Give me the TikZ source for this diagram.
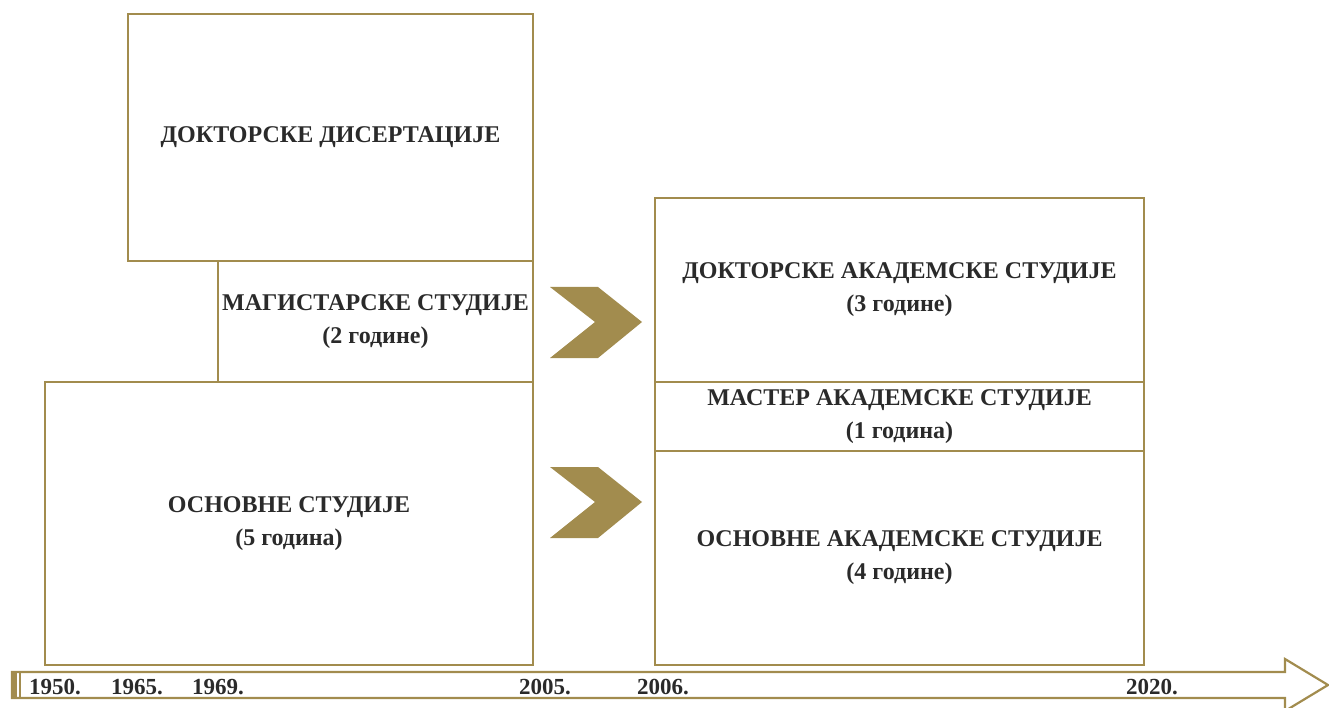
\documentclass[tikz,border=0pt]{standalone}
\usepackage{fontspec}
\setmainfont{Liberation Serif}
\usetikzlibrary{positioning}
\definecolor{gold}{HTML}{A28C4E}
\definecolor{ink}{HTML}{2A2A2A}

\begin{document}
\begin{tikzpicture}[
  x=1pt,y=-1pt,
  every node/.style={scale=1.0},
  boxes/.style={rectangle,draw=gold,line width=2.6pt,outer sep=0pt,inner sep=0pt,minimum width=#1,align=center,text=ink,font=\fontsize{24}{33}\selectfont\bfseries},
  years/.style={text=ink,font=\fontsize{23}{24}\selectfont\bfseries,inner sep=0pt},
]
\useasboundingbox (0,0) rectangle (1329,708);

% old system
\node (osnovne) [boxes=488pt,minimum height=283pt,anchor=south west] at (45,665)
  {ОСНОВНЕ СТУДИЈЕ\\(5 година)};
\node (magistar) [boxes=315pt,minimum height=121pt,above=0pt of osnovne.north east,anchor=south east]
  {МАГИСТАРСКЕ СТУДИЈЕ\\(2 године)};
\node (disert) [boxes=405pt,minimum height=247pt,above=0pt of magistar.north east,anchor=south east]
  {\raisebox{-4pt}{ДОКТОРСКЕ ДИСЕРТАЦИЈЕ}};

% new system
\node (master) [boxes=489pt,minimum height=69pt] at (899.5,416.5)
  {МАСТЕР АКАДЕМСКЕ СТУДИЈЕ\\(1 година)};
\node (doktor) [boxes=489pt,minimum height=184pt,above=0pt of master]
  {ДОКТОРСКЕ АКАДЕМСКЕ СТУДИЈЕ\\(3 године)};
\node (osnakad) [boxes=489pt,minimum height=214pt,below=0pt of master]
  {ОСНОВНЕ АКАДЕМСКЕ СТУДИЈЕ\\(4 године)};

% chevrons
\foreach \y in {287,467}
  \fill[gold] (550,\y) -- (598,\y) -- (642,\y+35) -- (598,\y+71) -- (550,\y+71) -- (595,\y+35) -- cycle;

% time axis
\draw[gold,line width=2.2pt] (12,672) -- (1285,672) -- (1285,659) -- (1328,685)
  -- (1285,711) -- (1285,698) -- (12,698) -- cycle;
\fill[gold] (11,671) rectangle (17,699);
\draw[gold,line width=1.2pt] (20,672) -- (20,698);

\foreach \t/\x in {1950./55,1965./137,1969./218,2005./545,2006./663,2020./1152}
  \node (y\x) [years] at (\x,687) {\t};
\end{tikzpicture}
\end{document}
